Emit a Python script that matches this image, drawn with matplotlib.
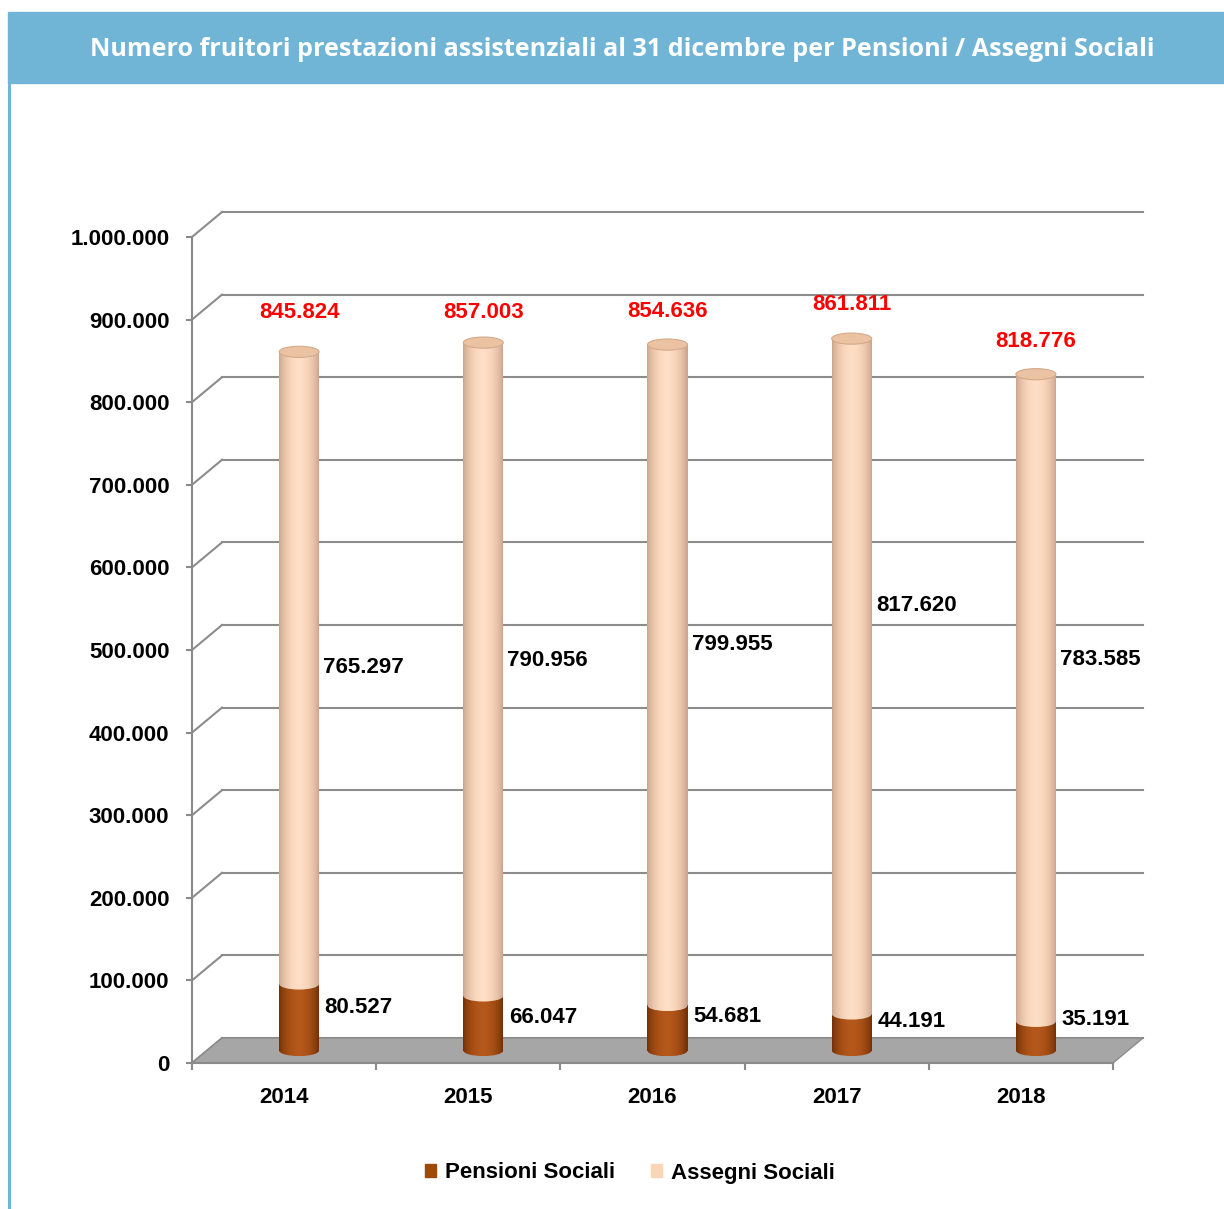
import numpy as np
import matplotlib.pyplot as plt
import matplotlib.colors as mcolors
from matplotlib.patches import Ellipse, Polygon, Patch, Rectangle
from matplotlib.lines import Line2D
from matplotlib.transforms import ScaledTranslation, IdentityTransform

years = ["2014", "2015", "2016", "2017", "2018"]
pensioni = [80527, 66047, 54681, 44191, 35191]
assegni = [765297, 790956, 799955, 817620, 783585]
totali = [845824, 857003, 854636, 861811, 818776]
y_ticks = [0, 100000, 200000, 300000, 400000, 500000, 600000, 700000, 800000, 900000, 1000000]
# the labels were placed by hand in the original chart
totali_lab_y = [893500, 893500, 894700, 903000, 858000]
assegni_lab_y = [463700, 472000, 491500, 538700, 473000]
pensioni_lab_y = [52000, 40000, 41000, 35000, 37500]

title = "Numero fruitori prestazioni assistenziali al 31 dicembre per Pensioni / Assegni Sociali"

def fmt(v):
    return f"{v:,}".replace(",", ".")

plt.rcParams['font.family'] = ['Liberation Sans', 'DejaVu Sans']
plt.rcParams['font.weight'] = 'bold'

W, H = 1224, 1209
fig = plt.figure(figsize=(W / 100, H / 100), dpi=100)

# header bar + left border of the card
fig.patches.append(Rectangle((8 / W, 1 - 83 / H), 1 - 8 / W, 71 / H,
                             transform=fig.transFigure, color='#71B5D6', zorder=0))
fig.add_artist(Line2D([9 / W, 9 / W], [0, 1 - 83 / H], transform=fig.transFigure,
                      color='#71B5D6', lw=2.2))
fig.text(622 / W, 1 - 49 / H, title, color='white', fontsize=18.1, family=['Open Sans', 'DejaVu Sans'],
         weight='bold', ha='center', va='center')

ax = fig.add_axes([192 / W, 1 - 1063 / H, 921 / W, 826 / H])
ax.set_xlim(-0.5, 4.5)
ax.set_ylim(0, 1000000)
ax.patch.set_visible(False)

axcol = '#8A8A8A'
gridcol = '#8C8C8C'
fs = 16
for s in ['top', 'right']:
    ax.spines[s].set_visible(False)
for s in ['left', 'bottom']:
    ax.spines[s].set_color(axcol)
    ax.spines[s].set_linewidth(1.5)

ax.set_yticks(y_ticks)
ax.set_yticklabels([fmt(v) for v in y_ticks])
ax.tick_params(axis='y', length=4.3, width=1.5, color=axcol, pad=12, labelsize=fs)
ax.set_xticks(np.arange(-0.5, 5, 1))
ax.set_xticklabels([])
ax.tick_params(axis='x', which='major', length=5, width=1.5, color=axcol)
ax.set_xticks(range(len(years)), minor=True)
ax.set_xticklabels(years, minor=True)
ax.tick_params(axis='x', which='minor', length=0, pad=17, labelsize=fs)

# pseudo 3d depth: back wall offset and bar (middle) offset
dx, dy = 30, 25
back = ax.transData + ScaledTranslation(dx / 100, dy / 100, fig.dpi_scale_trans)
mid = ax.transData + ScaledTranslation(dx / 200, dy / 200, fig.dpi_scale_trans)

def depth_pt(x, v, d):
    p = ax.transData.transform((x, v))
    return p + np.array([dx, dy]) * d

# back wall gridlines and the diagonals to the front axis
for v in y_ticks:
    ax.plot([-0.5, 4.5], [v, v], transform=back, color=gridcol, lw=1.5, clip_on=False, zorder=1)
    p0 = depth_pt(-0.5, v, 0)
    p1 = depth_pt(-0.5, v, 1)
    ax.add_artist(Line2D([p0[0], p1[0]], [p0[1], p1[1]], transform=IdentityTransform(),
                         color=gridcol, lw=1.5, zorder=1, clip_on=False))

# floor
floor = Polygon([depth_pt(-0.5, 0, 0), depth_pt(4.5, 0, 0), depth_pt(4.5, 0, 1), depth_pt(-0.5, 0, 1)],
                closed=True, transform=IdentityTransform(), facecolor='#A6A6A6',
                edgecolor='#8C8C8C', lw=1, zorder=1.5, clip_on=False)
ax.add_artist(floor)

# cylinders
bw = 0.217
eh = 13500
n = 40

def shade(edge, center, t):
    f = np.cos(t * np.pi / 2) ** 0.7
    e = np.array(mcolors.to_rgb(edge))
    c = np.array(mcolors.to_rgb(center))
    return e + (c - e) * f

def segment(x, lo, hi, edge, center):
    sw = bw / n
    clip = Ellipse((x, lo), bw, eh, transform=mid)
    for i in range(n):
        t = (i + 0.5) / n * 2 - 1
        col = shade(edge, center, t)
        xs = x - bw / 2 + (i + 0.5) * sw
        ax.bar(xs, hi - lo, sw * 1.15, bottom=lo, color=col, lw=0, transform=mid,
               clip_on=False, zorder=3)
        # rounded lower edge of the segment
        b = ax.bar(xs, eh / 2, sw * 1.15, bottom=lo - eh / 2, color=col, lw=0, transform=mid,
                   zorder=3)
        b[0].set_clip_box(None)
        b[0].set_clip_path(clip)
        b[0].set_clip_on(True)

brown_edge, brown_center = '#6E2D03', '#B4571A'
peach_edge, peach_center = '#C9A088', '#FDDDC3'

for i in range(len(years)):
    segment(i, 0, pensioni[i], brown_edge, brown_center)
    segment(i, pensioni[i], totali[i], peach_edge, peach_center)
    ax.add_patch(Ellipse((i, totali[i]), bw, eh, transform=mid, facecolor='#EBC2A2',
                         edgecolor='#D4AA8A', lw=0.8, clip_on=False, zorder=4))

    ax.annotate(fmt(totali[i]), (i, totali_lab_y[i]), xycoords=mid,
                ha='center', va='center', color='#FF0000',
                fontsize=fs, weight='bold')
    ax.annotate(fmt(assegni[i]), (i + bw / 2, assegni_lab_y[i]), xycoords=mid, xytext=(3, 0),
                textcoords='offset points', ha='left', va='center', color='black',
                fontsize=fs, weight='bold', zorder=5)
    ax.annotate(fmt(pensioni[i]), (i + bw / 2, pensioni_lab_y[i]), xycoords=mid, xytext=(4, 0),
                textcoords='offset points', ha='left', va='center', color='black',
                fontsize=fs, weight='bold', zorder=5)

handles = [Patch(color='#9C4A0A'), Patch(color='#FCD5B5')]
fig.legend(handles, ['Pensioni Sociali', 'Assegni Sociali'], loc='center',
           bbox_to_anchor=(630 / W, 36 / H), ncol=2, frameon=False,
           prop={'size': fs, 'weight': 'bold'}, handlelength=0.5, handleheight=0.5,
           handletextpad=0.4, columnspacing=1.6)

plt.savefig("out.png", dpi=100)
